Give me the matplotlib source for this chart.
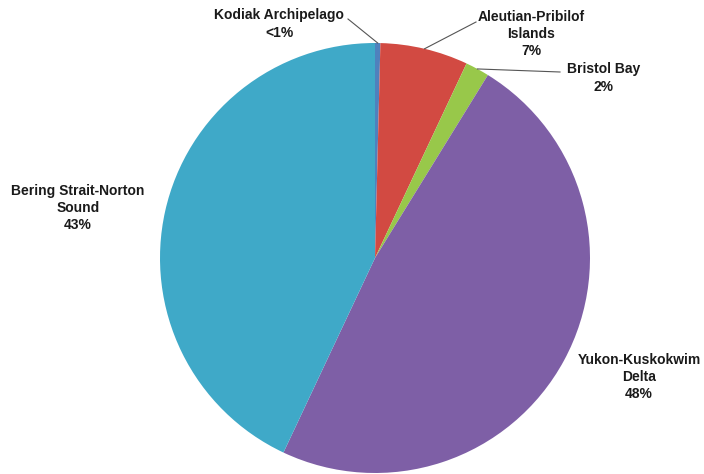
import numpy as np
import matplotlib
matplotlib.use("Agg")
import matplotlib.pyplot as plt

plt.rcParams['font.family'] = ['Liberation Sans', 'DejaVu Sans']

# regions, clockwise from 12 o'clock
regions = ["Kodiak Archipelago", "Aleutian-Pribilof\nIslands", "Bristol Bay",
           "Yukon-Kuskokwim\nDelta", "Bering Strait-Norton\nSound"]
shares = [0.4, 6.6, 1.8, 48.2, 43.0]
pct_labels = ["<1%", "7%", "2%", "48%", "43%"]
colors = ["#4F81BD", "#D24A42", "#98C84A", "#7E5FA6", "#3FA9C8"]

W, H = 704, 474
fig = plt.figure(figsize=(W / 100, H / 100), dpi=100)
ax = fig.add_axes([0, 0, 1, 1])

cx, cy, r = 375, H - 258, 215
wedges, _ = ax.pie(shares, colors=colors, startangle=90, counterclock=False,
                   center=(cx, cy), radius=r, frame=True,
                   wedgeprops=dict(linewidth=0))
ax.set_xlim(0, W)
ax.set_ylim(0, H)
ax.set_aspect("equal")
ax.axis("off")

# label centres (pixels from top-left) and leader line ends
label_pos = [(279, 24), (531, 34), (604, 78), (639, 377), (78, 208)]
leader_end = [(348, 19), (476, 22), (560, 72), None, None]

for w, name, pct, (lx, ly), le in zip(wedges, regions, pct_labels, label_pos, leader_end):
    ax.text(lx, H - ly, name + "\n" + pct, ha="center", va="center",
            fontsize=10, fontweight="bold", color="#1a1a1a", linespacing=1.3)
    if le is not None:
        ang = np.deg2rad((w.theta1 + w.theta2) / 2)
        px, py = cx + r * np.cos(ang), cy + r * np.sin(ang)
        ax.plot([px, le[0]], [py, H - le[1]], color="#555555", lw=0.8)

fig.savefig("out.png", dpi=100, facecolor="white")
